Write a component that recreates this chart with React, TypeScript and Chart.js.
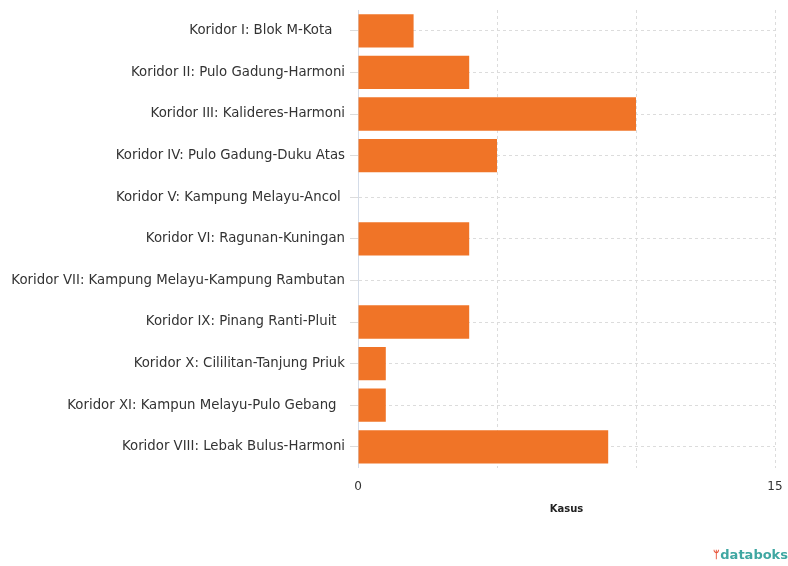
import React, { useEffect, useRef } from "react";
import { Chart, registerables } from "chart.js";

Chart.register(...registerables);

const categories = [
  "Koridor I: Blok M-Kota   ",
  "Koridor II: Pulo Gadung-Harmoni",
  "Koridor III: Kalideres-Harmoni",
  "Koridor IV: Pulo Gadung-Duku Atas",
  "Koridor V: Kampung Melayu-Ancol ",
  "Koridor VI: Ragunan-Kuningan",
  "Koridor VII: Kampung Melayu-Kampung Rambutan",
  "Koridor IX: Pinang Ranti-Pluit  ",
  "Koridor X: Cililitan-Tanjung Priuk",
  "Koridor XI: Kampun Melayu-Pulo Gebang  ",
  "Koridor VIII: Lebak Bulus-Harmoni",
];

const kasus = [2, 4, 10, 5, 0, 4, 0, 4, 1, 1, 9];

const xTickLabels = [0, 15];
const xTitle = "Kasus";

export default function App() {
  const ref = useRef<HTMLCanvasElement | null>(null);

  useEffect(() => {
    if (!ref.current) return;
    const chart = new Chart(ref.current, {
      type: "bar",
      data: {
        labels: categories,
        datasets: [
          {
            label: xTitle,
            data: kasus,
            backgroundColor: "#F07427",
            borderWidth: 0,
            barPercentage: 0.8,
            categoryPercentage: 1,
          },
        ],
      },
      options: {
        indexAxis: "y",
        animation: false,
        responsive: true,
        maintainAspectRatio: false,
        layout: { padding: { top: 10, right: 6, bottom: 51, left: 0 } },
        plugins: {
          legend: { display: false },
          tooltip: { enabled: false },
        },
        scales: {
          x: {
            min: 0,
            max: 15,
            afterFit: (scale: any) => {
              scale.paddingRight = 13;
            },
            ticks: {
              stepSize: 5,
              padding: 12,
              color: "#333",
              font: { family: "DejaVu Sans", size: 12 },
              callback: (v: any) =>
                xTickLabels.includes(Number(v)) ? String(v) : "",
            },
            grid: {
              color: "#dcdcdc",
              drawTicks: false,
            },
            border: { display: false, dash: [3, 3] },
            title: {
              display: true,
              text: xTitle,
              color: "#222",
              font: { family: "DejaVu Sans", size: 10, weight: "bold" },
              padding: { top: -3, bottom: 0 },
            },
          },
          y: {
            afterFit: (scale: any) => {
              scale.width = 358;
              scale.paddingTop = 0;
              scale.paddingBottom = 0;
            },
            ticks: {
              color: "#333",
              padding: 5,
              font: { family: "DejaVu Sans", size: 13.3 },
            },
            grid: {
              offset: false,
              color: "#dcdcdc",
              tickLength: 8,
              tickColor: "#dcdcdc",
            },
            border: { display: true, color: "#d4dce8", dash: [3, 3] },
          },
        },
      },
    } as any);
    return () => chart.destroy();
  }, []);

  return (
    <div
      style={{
        position: "fixed",
        left: 0,
        top: 0,
        width: 788,
        height: 566,
        background: "#fff",
      }}
    >
      <canvas ref={ref} />
      <div
        style={{
          position: "absolute",
          right: 0,
          top: 547,
          fontFamily: "DejaVu Sans",
          fontWeight: "bold",
          fontSize: 13,
          color: "#3fa7a2",
          whiteSpace: "nowrap",
          lineHeight: "16px",
        }}
      >
        <span style={{ color: "#e8563c", fontSize: 11 }}>ᛘ</span>databoks
      </div>
    </div>
  );
}
